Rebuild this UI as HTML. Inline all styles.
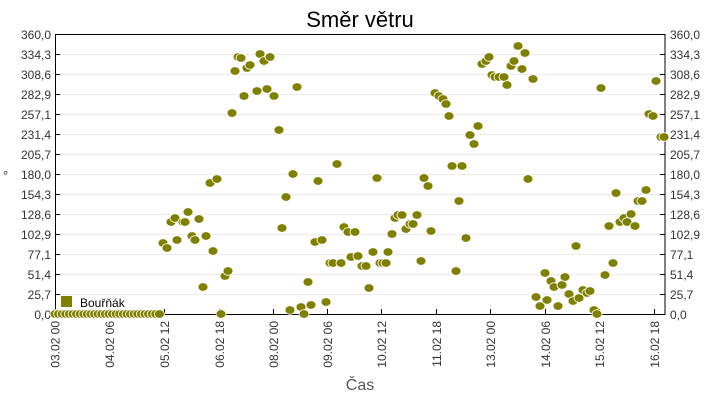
<!DOCTYPE html>
<html><head><meta charset="utf-8"><style>
body{margin:0;background:#fff}
svg{display:block;font-family:"Liberation Sans",sans-serif}
</style></head><body>
<svg width="720" height="400" xmlns="http://www.w3.org/2000/svg">
<rect width="720" height="400" fill="#fff"/>
<text x="360" y="27" font-size="22" text-anchor="middle" fill="#000">Směr větru</text>
<g stroke="#ebebeb" stroke-width="1">
<line x1="55" x2="665" y1="294.5" y2="294.5"/><line x1="55" x2="665" y1="274.5" y2="274.5"/><line x1="55" x2="665" y1="254.5" y2="254.5"/><line x1="55" x2="665" y1="234.5" y2="234.5"/><line x1="55" x2="665" y1="214.5" y2="214.5"/><line x1="55" x2="665" y1="194.5" y2="194.5"/><line x1="55" x2="665" y1="174.5" y2="174.5"/><line x1="55" x2="665" y1="154.5" y2="154.5"/><line x1="55" x2="665" y1="134.5" y2="134.5"/><line x1="55" x2="665" y1="114.5" y2="114.5"/><line x1="55" x2="665" y1="94.5" y2="94.5"/><line x1="55" x2="665" y1="74.5" y2="74.5"/><line x1="55" x2="665" y1="54.5" y2="54.5"/>
</g>
<rect x="55.5" y="34.5" width="609.5" height="280" fill="none" stroke="#000"/>
<g stroke="#000">
<path d="M55 294.5h5M55 274.5h5M55 254.5h5M55 234.5h5M55 214.5h5M55 194.5h5M55 174.5h5M55 154.5h5M55 134.5h5M55 114.5h5M55 94.5h5M55 74.5h5M55 54.5h5"/>
<path d="M665 294.5h-5M665 274.5h-5M665 254.5h-5M665 234.5h-5M665 214.5h-5M665 194.5h-5M665 174.5h-5M665 154.5h-5M665 134.5h-5M665 114.5h-5M665 94.5h-5M665 74.5h-5M665 54.5h-5"/>
<path d="M109.5 314v-5M164.5 314v-5M219.5 314v-5M273.5 314v-5M327.5 314v-5M381.5 314v-5M436.5 314v-5M490.5 314v-5M545.5 314v-5M599.5 314v-5M654.5 314v-5"/>
</g>
<g font-size="12" fill="#333" text-anchor="end">
<text x="51" y="39">360,0</text><text x="51" y="59">334,3</text><text x="51" y="79">308,6</text><text x="51" y="99">282,9</text><text x="51" y="119">257,1</text><text x="51" y="139">231,4</text><text x="51" y="159">205,7</text><text x="51" y="179">180,0</text><text x="51" y="199">154,3</text><text x="51" y="219">128,6</text><text x="51" y="239">102,9</text><text x="51" y="259">77,1</text><text x="51" y="279">51,4</text><text x="51" y="299">25,7</text><text x="51" y="319">0,0</text>
</g>
<g font-size="12" fill="#333">
<text x="670" y="39">360,0</text><text x="670" y="59">334,3</text><text x="670" y="79">308,6</text><text x="670" y="99">282,9</text><text x="670" y="119">257,1</text><text x="670" y="139">231,4</text><text x="670" y="159">205,7</text><text x="670" y="179">180,0</text><text x="670" y="199">154,3</text><text x="670" y="219">128,6</text><text x="670" y="239">102,9</text><text x="670" y="259">77,1</text><text x="670" y="279">51,4</text><text x="670" y="299">25,7</text><text x="670" y="319">0,0</text>
</g>
<g font-size="12" fill="#333" text-anchor="end">
<text transform="translate(59.5,321) rotate(-90)">03.02 00</text>
<text transform="translate(114,321) rotate(-90)">04.02 06</text>
<text transform="translate(169,321) rotate(-90)">05.02 12</text>
<text transform="translate(224,321) rotate(-90)">06.02 18</text>
<text transform="translate(278,321) rotate(-90)">08.02 00</text>
<text transform="translate(332,321) rotate(-90)">09.02 06</text>
<text transform="translate(386,321) rotate(-90)">10.02 12</text>
<text transform="translate(441,321) rotate(-90)">11.02 18</text>
<text transform="translate(495,321) rotate(-90)">13.02 00</text>
<text transform="translate(550,321) rotate(-90)">14.02 06</text>
<text transform="translate(604,321) rotate(-90)">15.02 12</text>
<text transform="translate(659,321) rotate(-90)">16.02 18</text>
</g>
<text x="360" y="390" font-size="16" fill="#555" text-anchor="middle">Čas</text>
<text x="3" y="180" font-size="13" fill="#333">°</text>
<rect x="61" y="296" width="11" height="11" fill="#808000"/>
<text x="80" y="307" font-size="12" fill="#000">Bouřňák</text>
<g fill="#808000" stroke="#fff" stroke-width="0.8">
<ellipse cx="55" cy="314" rx="5" ry="4.3"/><ellipse cx="58.6" cy="314" rx="5" ry="4.3"/><ellipse cx="62.2" cy="314" rx="5" ry="4.3"/><ellipse cx="65.8" cy="314" rx="5" ry="4.3"/><ellipse cx="69.4" cy="314" rx="5" ry="4.3"/><ellipse cx="73" cy="314" rx="5" ry="4.3"/><ellipse cx="76.6" cy="314" rx="5" ry="4.3"/><ellipse cx="80.2" cy="314" rx="5" ry="4.3"/><ellipse cx="83.8" cy="314" rx="5" ry="4.3"/><ellipse cx="87.4" cy="314" rx="5" ry="4.3"/><ellipse cx="91" cy="314" rx="5" ry="4.3"/><ellipse cx="94.6" cy="314" rx="5" ry="4.3"/><ellipse cx="98.2" cy="314" rx="5" ry="4.3"/><ellipse cx="101.8" cy="314" rx="5" ry="4.3"/><ellipse cx="105.4" cy="314" rx="5" ry="4.3"/><ellipse cx="109" cy="314" rx="5" ry="4.3"/><ellipse cx="112.6" cy="314" rx="5" ry="4.3"/><ellipse cx="116.2" cy="314" rx="5" ry="4.3"/><ellipse cx="119.8" cy="314" rx="5" ry="4.3"/><ellipse cx="123.4" cy="314" rx="5" ry="4.3"/><ellipse cx="127" cy="314" rx="5" ry="4.3"/><ellipse cx="130.6" cy="314" rx="5" ry="4.3"/><ellipse cx="134.2" cy="314" rx="5" ry="4.3"/><ellipse cx="137.8" cy="314" rx="5" ry="4.3"/><ellipse cx="141.4" cy="314" rx="5" ry="4.3"/><ellipse cx="145" cy="314" rx="5" ry="4.3"/><ellipse cx="148.6" cy="314" rx="5" ry="4.3"/><ellipse cx="152.2" cy="314" rx="5" ry="4.3"/><ellipse cx="155.8" cy="314" rx="5" ry="4.3"/><ellipse cx="159.4" cy="314" rx="5" ry="4.3"/>
<ellipse cx="163" cy="243" rx="5" ry="4.3"/><ellipse cx="167" cy="248" rx="5" ry="4.3"/><ellipse cx="171" cy="222" rx="5" ry="4.3"/><ellipse cx="175" cy="218" rx="5" ry="4.3"/><ellipse cx="177" cy="240" rx="5" ry="4.3"/><ellipse cx="183" cy="222" rx="5" ry="4.3"/><ellipse cx="185" cy="222" rx="5" ry="4.3"/><ellipse cx="188" cy="212" rx="5" ry="4.3"/><ellipse cx="192" cy="236" rx="5" ry="4.3"/><ellipse cx="195" cy="240" rx="5" ry="4.3"/><ellipse cx="199" cy="219" rx="5" ry="4.3"/><ellipse cx="203" cy="287" rx="5" ry="4.3"/><ellipse cx="206" cy="236" rx="5" ry="4.3"/><ellipse cx="210" cy="183" rx="5" ry="4.3"/><ellipse cx="213" cy="251" rx="5" ry="4.3"/><ellipse cx="217" cy="179" rx="5" ry="4.3"/><ellipse cx="221" cy="314" rx="5" ry="4.3"/><ellipse cx="225" cy="276" rx="5" ry="4.3"/><ellipse cx="228" cy="271" rx="5" ry="4.3"/><ellipse cx="232" cy="113" rx="5" ry="4.3"/><ellipse cx="238" cy="57" rx="5" ry="4.3"/><ellipse cx="244" cy="96" rx="5" ry="4.3"/><ellipse cx="247" cy="68" rx="5" ry="4.3"/><ellipse cx="250" cy="65" rx="5" ry="4.3"/><ellipse cx="257" cy="91" rx="5" ry="4.3"/><ellipse cx="260" cy="54" rx="5" ry="4.3"/><ellipse cx="264" cy="61" rx="5" ry="4.3"/><ellipse cx="267" cy="89" rx="5" ry="4.3"/><ellipse cx="270" cy="57" rx="5" ry="4.3"/><ellipse cx="235" cy="71" rx="5" ry="4.3"/><ellipse cx="241" cy="58" rx="5" ry="4.3"/><ellipse cx="274" cy="96" rx="5" ry="4.3"/><ellipse cx="279" cy="130" rx="5" ry="4.3"/><ellipse cx="282" cy="228" rx="5" ry="4.3"/><ellipse cx="286" cy="197" rx="5" ry="4.3"/><ellipse cx="290" cy="310" rx="5" ry="4.3"/><ellipse cx="293" cy="174" rx="5" ry="4.3"/><ellipse cx="297" cy="87" rx="5" ry="4.3"/><ellipse cx="301" cy="307" rx="5" ry="4.3"/><ellipse cx="304" cy="314" rx="5" ry="4.3"/><ellipse cx="308" cy="282" rx="5" ry="4.3"/><ellipse cx="311" cy="305" rx="5" ry="4.3"/><ellipse cx="315" cy="242" rx="5" ry="4.3"/><ellipse cx="318" cy="181" rx="5" ry="4.3"/><ellipse cx="322" cy="240" rx="5" ry="4.3"/><ellipse cx="326" cy="302" rx="5" ry="4.3"/><ellipse cx="330" cy="263" rx="5" ry="4.3"/><ellipse cx="333" cy="263" rx="5" ry="4.3"/><ellipse cx="337" cy="164" rx="5" ry="4.3"/><ellipse cx="341" cy="263" rx="5" ry="4.3"/><ellipse cx="344" cy="227" rx="5" ry="4.3"/><ellipse cx="348" cy="232" rx="5" ry="4.3"/><ellipse cx="351" cy="257" rx="5" ry="4.3"/><ellipse cx="355" cy="232" rx="5" ry="4.3"/><ellipse cx="358" cy="256" rx="5" ry="4.3"/><ellipse cx="362" cy="266" rx="5" ry="4.3"/><ellipse cx="366" cy="266" rx="5" ry="4.3"/><ellipse cx="369" cy="288" rx="5" ry="4.3"/><ellipse cx="373" cy="252" rx="5" ry="4.3"/><ellipse cx="377" cy="178" rx="5" ry="4.3"/><ellipse cx="380" cy="263" rx="5" ry="4.3"/><ellipse cx="383" cy="263" rx="5" ry="4.3"/><ellipse cx="386" cy="263" rx="5" ry="4.3"/><ellipse cx="388" cy="252" rx="5" ry="4.3"/><ellipse cx="392" cy="234" rx="5" ry="4.3"/><ellipse cx="395" cy="218" rx="5" ry="4.3"/><ellipse cx="398" cy="215" rx="5" ry="4.3"/><ellipse cx="402" cy="215" rx="5" ry="4.3"/><ellipse cx="406" cy="229" rx="5" ry="4.3"/><ellipse cx="410" cy="224" rx="5" ry="4.3"/><ellipse cx="413" cy="224" rx="5" ry="4.3"/><ellipse cx="417" cy="215" rx="5" ry="4.3"/><ellipse cx="421" cy="261" rx="5" ry="4.3"/><ellipse cx="424" cy="178" rx="5" ry="4.3"/><ellipse cx="428" cy="186" rx="5" ry="4.3"/><ellipse cx="431" cy="231" rx="5" ry="4.3"/><ellipse cx="435" cy="93" rx="5" ry="4.3"/><ellipse cx="439" cy="96" rx="5" ry="4.3"/><ellipse cx="443" cy="99" rx="5" ry="4.3"/><ellipse cx="446" cy="104" rx="5" ry="4.3"/><ellipse cx="449" cy="116" rx="5" ry="4.3"/><ellipse cx="452" cy="166" rx="5" ry="4.3"/><ellipse cx="456" cy="271" rx="5" ry="4.3"/><ellipse cx="459" cy="201" rx="5" ry="4.3"/><ellipse cx="462" cy="166" rx="5" ry="4.3"/><ellipse cx="466" cy="238" rx="5" ry="4.3"/><ellipse cx="470" cy="135" rx="5" ry="4.3"/><ellipse cx="474" cy="144" rx="5" ry="4.3"/><ellipse cx="478" cy="126" rx="5" ry="4.3"/><ellipse cx="482" cy="64" rx="5" ry="4.3"/><ellipse cx="486" cy="61" rx="5" ry="4.3"/><ellipse cx="489" cy="57" rx="5" ry="4.3"/><ellipse cx="492" cy="75" rx="5" ry="4.3"/><ellipse cx="495" cy="77" rx="5" ry="4.3"/><ellipse cx="499" cy="77" rx="5" ry="4.3"/><ellipse cx="504" cy="77" rx="5" ry="4.3"/><ellipse cx="507" cy="85" rx="5" ry="4.3"/><ellipse cx="511" cy="66" rx="5" ry="4.3"/><ellipse cx="514" cy="61" rx="5" ry="4.3"/><ellipse cx="518" cy="46" rx="5" ry="4.3"/><ellipse cx="522" cy="69" rx="5" ry="4.3"/><ellipse cx="525" cy="53" rx="5" ry="4.3"/><ellipse cx="528" cy="179" rx="5" ry="4.3"/><ellipse cx="533" cy="79" rx="5" ry="4.3"/><ellipse cx="536" cy="297" rx="5" ry="4.3"/><ellipse cx="540" cy="306" rx="5" ry="4.3"/><ellipse cx="545" cy="273" rx="5" ry="4.3"/><ellipse cx="547" cy="300" rx="5" ry="4.3"/><ellipse cx="551" cy="281" rx="5" ry="4.3"/><ellipse cx="554" cy="287" rx="5" ry="4.3"/><ellipse cx="558" cy="306" rx="5" ry="4.3"/><ellipse cx="562" cy="285" rx="5" ry="4.3"/><ellipse cx="565" cy="277" rx="5" ry="4.3"/><ellipse cx="569" cy="294" rx="5" ry="4.3"/><ellipse cx="573" cy="301" rx="5" ry="4.3"/><ellipse cx="576" cy="246" rx="5" ry="4.3"/><ellipse cx="579" cy="298" rx="5" ry="4.3"/><ellipse cx="583" cy="290" rx="5" ry="4.3"/><ellipse cx="587" cy="293" rx="5" ry="4.3"/><ellipse cx="590" cy="291" rx="5" ry="4.3"/><ellipse cx="594" cy="310" rx="5" ry="4.3"/><ellipse cx="597" cy="314" rx="5" ry="4.3"/><ellipse cx="601" cy="88" rx="5" ry="4.3"/><ellipse cx="605" cy="275" rx="5" ry="4.3"/><ellipse cx="609" cy="226" rx="5" ry="4.3"/><ellipse cx="613" cy="263" rx="5" ry="4.3"/><ellipse cx="616" cy="193" rx="5" ry="4.3"/><ellipse cx="620" cy="222" rx="5" ry="4.3"/><ellipse cx="624" cy="218" rx="5" ry="4.3"/><ellipse cx="627" cy="222" rx="5" ry="4.3"/><ellipse cx="631" cy="214" rx="5" ry="4.3"/><ellipse cx="635" cy="226" rx="5" ry="4.3"/><ellipse cx="638" cy="201" rx="5" ry="4.3"/><ellipse cx="642" cy="201" rx="5" ry="4.3"/><ellipse cx="646" cy="190" rx="5" ry="4.3"/><ellipse cx="649" cy="114" rx="5" ry="4.3"/><ellipse cx="653" cy="116" rx="5" ry="4.3"/><ellipse cx="656" cy="81" rx="5" ry="4.3"/><ellipse cx="661" cy="137" rx="5" ry="4.3"/><ellipse cx="664" cy="137" rx="5" ry="4.3"/>
</g>
</svg>
</body></html>
